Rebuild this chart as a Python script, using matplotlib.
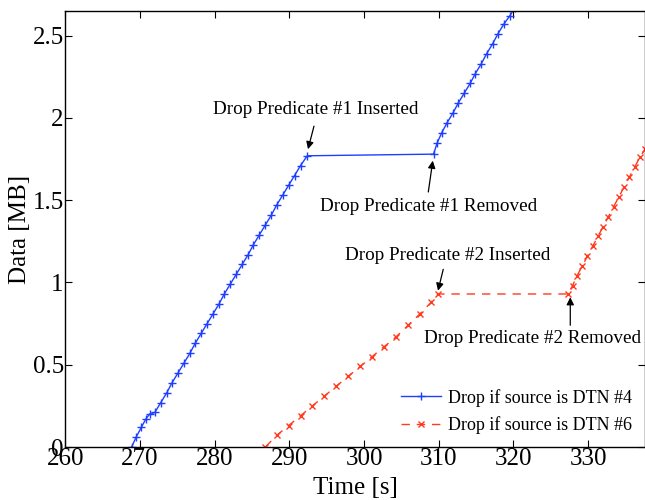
import matplotlib.pyplot as plt

plt.rcParams['font.family'] = ['Liberation Serif', 'DejaVu Serif']

# Drop if source is DTN #4 (blue)
t_dtn4 = [268.9, 269.5, 270.2, 270.8, 271.3, 272.0, 272.8, 273.6, 274.3, 275.1,
          275.9, 276.7, 277.4, 278.2, 279.0, 279.8, 280.6, 281.3, 282.1, 282.9,
          283.7, 284.5, 285.2, 286.0, 286.8, 287.6, 288.3, 289.1, 289.9, 290.7,
          291.5, 292.4, 309.3, 309.8, 310.4, 311.1, 311.9, 312.6, 313.4, 314.2,
          314.9, 315.7, 316.4, 317.2, 317.9, 318.7, 319.5, 320.2, 321.0]
d_dtn4 = [0.00, 0.06, 0.12, 0.17, 0.20, 0.21, 0.27, 0.33, 0.39, 0.45,
          0.51, 0.57, 0.63, 0.69, 0.75, 0.81, 0.87, 0.93, 0.99, 1.05,
          1.11, 1.17, 1.23, 1.29, 1.35, 1.41, 1.47, 1.53, 1.59, 1.65,
          1.71, 1.77, 1.78, 1.85, 1.91, 1.97, 2.03, 2.09, 2.15, 2.21,
          2.27, 2.33, 2.39, 2.45, 2.51, 2.57, 2.62, 2.67, 2.73]

# Drop if source is DTN #6 (red)
t_dtn6 = [286.8, 288.3, 289.9, 291.5, 293.1, 294.7, 296.3, 297.9, 299.5, 301.1,
          302.7, 304.3, 305.9, 307.5, 309.0, 309.9, 327.3, 327.9, 328.5, 329.2,
          329.9, 330.6, 331.3, 332.0, 332.7, 333.4, 334.1, 334.8, 335.5, 336.2,
          336.9, 337.6]
d_dtn6 = [0.00, 0.07, 0.13, 0.19, 0.25, 0.31, 0.37, 0.43, 0.49, 0.55,
          0.61, 0.67, 0.74, 0.81, 0.88, 0.93, 0.93, 0.98, 1.04, 1.10,
          1.16, 1.22, 1.28, 1.34, 1.40, 1.46, 1.52, 1.58, 1.64, 1.70,
          1.76, 1.81]

blue = '#1f3fff'
red = '#ff3a1e'

fig = plt.figure(figsize=(6.45, 5.0), dpi=100)
ax = fig.add_axes([0.101, 0.106, 0.899, 0.872])

ax.plot(t_dtn4, d_dtn4, color=blue, lw=1.0, marker='+', ms=5.5, mew=1.0,
        label='Drop if source is DTN #4')
ax.plot(t_dtn6, d_dtn6, color=red, lw=1.0, ls=(0, (6, 5)), marker='x', ms=4.5,
        mew=1.0, label='Drop if source is DTN #6')

ax.set_xlim(260, 337.6)
ax.set_ylim(0, 2.65)
ax.set_xticks(range(260, 340, 10))
ax.set_yticks([0, 0.5, 1, 1.5, 2, 2.5])
ax.set_yticklabels(['0', '0.5', '1', '1.5', '2', '2.5'])
ax.tick_params(direction='in', top=True, right=True, length=5, width=0.8,
               labelsize=18, pad=1)
for s in ax.spines.values():
    s.set_linewidth(1.0)

ax.set_xlabel('Time [s]', fontsize=18, labelpad=5)
ax.set_ylabel('Data [MB]', fontsize=18, labelpad=1)

arrow = dict(arrowstyle='-|>', color='black', lw=0.9,
             mutation_scale=11, shrinkA=0, shrinkB=0)
fs = 13.8

ax.text(293.6, 2.05, 'Drop Predicate #1 Inserted', fontsize=fs, ha='center', va='center')
ax.annotate('', xy=(292.5, 1.81), xytext=(293.3, 1.95), arrowprops=arrow)

ax.text(308.6, 1.46, 'Drop Predicate #1 Removed', fontsize=fs, ha='center', va='center')
ax.annotate('', xy=(309.2, 1.74), xytext=(308.6, 1.55), arrowprops=arrow)

ax.text(311.2, 1.165, 'Drop Predicate #2 Inserted', fontsize=fs, ha='center', va='center')
ax.annotate('', xy=(309.9, 0.95), xytext=(310.6, 1.08), arrowprops=arrow)

ax.text(322.6, 0.66, 'Drop Predicate #2 Removed', fontsize=fs, ha='center', va='center')
ax.annotate('', xy=(327.6, 0.91), xytext=(327.6, 0.74), arrowprops=arrow)

leg = ax.legend(loc='lower right', fontsize=13, frameon=False, handlelength=2.2,
                handletextpad=0.4, borderaxespad=0.3, labelspacing=0.55)

fig.savefig('out.png', dpi=100)
